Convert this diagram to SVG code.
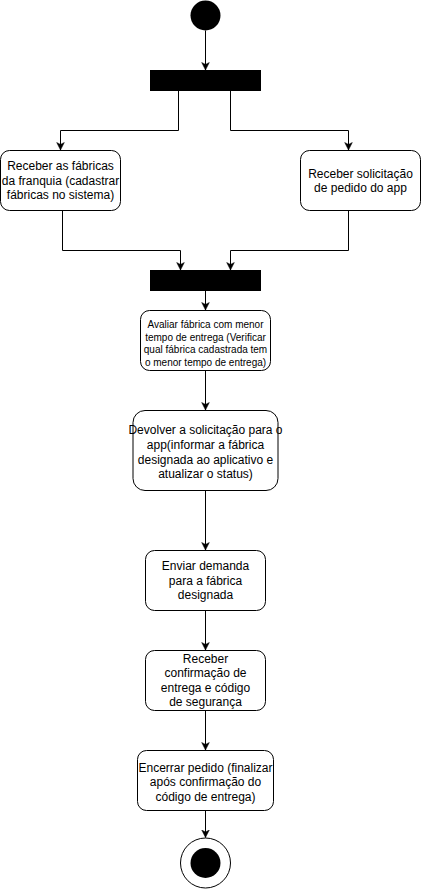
<svg xmlns="http://www.w3.org/2000/svg" width="421" height="891" viewBox="0 0 421 891">
<style>
.box{fill:#fff;stroke:#000;stroke-width:1}
.bar{fill:#000}
.t{font-family:"Liberation Sans",Arial,sans-serif;font-size:12px;fill:#000;text-anchor:middle}
.s{font-size:10px}
.c{fill:none;stroke:#000;stroke-width:1}
</style>
<defs>
<marker id="a" markerUnits="userSpaceOnUse" markerWidth="10" markerHeight="10" viewBox="-8 -5 10 10" refX="0" refY="0" orient="auto">
<path d="M0,0 L-7.5,-3.8 L-5.6,0 L-7.5,3.8 Z" fill="#000" stroke="#000" stroke-width="0.5"/>
</marker>
</defs>
<g id="connectors">
<path class="c" d="M205.5,30.5 V70" marker-end="url(#a)"/>
<path class="c" d="M178.5,91 V130.5 H60.5 V150" marker-end="url(#a)"/>
<path class="c" d="M230.5,91 V130.5 H348.5 V150" marker-end="url(#a)"/>
<path class="c" d="M62.5,210 V250.5 H180.5 V270" marker-end="url(#a)"/>
<path class="c" d="M348.5,210 V250.5 H230.5 V270" marker-end="url(#a)"/>
<path class="c" d="M205.5,291 V310" marker-end="url(#a)"/>
<path class="c" d="M205.5,370 V410" marker-end="url(#a)"/>
<path class="c" d="M205.5,490 V550" marker-end="url(#a)"/>
<path class="c" d="M205.5,610 V650" marker-end="url(#a)"/>
<path class="c" d="M205.5,710 V750" marker-end="url(#a)"/>
<path class="c" d="M205.5,810 V837.5" marker-end="url(#a)"/>
</g>
<g id="start"><circle cx="205.5" cy="15.5" r="15" fill="#000"/></g>
<g id="fork"><rect class="bar" x="150" y="70" width="111" height="21"/></g>
<g id="n1">
<rect class="box" x="0.5" y="150.5" width="120" height="60" rx="9"/>
<text class="t"><tspan x="60.5" y="170">Receber as fábricas</tspan><tspan x="60.5" y="184.5">da franquia (cadastrar</tspan><tspan x="60.5" y="199">fábricas no sistema)</tspan></text>
</g>
<g id="n2">
<rect class="box" x="300.5" y="150.5" width="120" height="60" rx="9"/>
<text class="t"><tspan x="360.5" y="177.5">Receber solicitação</tspan><tspan x="360.5" y="192">de pedido do app</tspan></text>
</g>
<g id="join"><rect class="bar" x="150" y="270" width="111" height="21"/></g>
<g id="n3">
<rect class="box" x="140.5" y="310.5" width="130" height="60" rx="9"/>
<text class="t s"><tspan x="205.5" y="328">Avaliar fábrica com menor</tspan><tspan x="205.5" y="340.7">tempo de entrega (Verificar</tspan><tspan x="205.5" y="353.4">qual fábrica cadastrada tem</tspan><tspan x="205.5" y="366">o menor tempo de entrega)</tspan></text>
</g>
<g id="n4">
<rect class="box" x="133" y="410.5" width="145" height="80" rx="12"/>
<text class="t"><tspan x="205.5" y="434">Devolver a solicitação para o</tspan><tspan x="205.5" y="449">app(informar a fábrica</tspan><tspan x="205.5" y="463.5">designada ao aplicativo e</tspan><tspan x="205.5" y="478">atualizar o status)</tspan></text>
</g>
<g id="n5">
<rect class="box" x="145.5" y="550.5" width="120" height="60" rx="9"/>
<text class="t"><tspan x="205.5" y="570">Enviar demanda</tspan><tspan x="205.5" y="584.5">para a fábrica</tspan><tspan x="205.5" y="599">designada</tspan></text>
</g>
<g id="n6">
<rect class="box" x="145.5" y="650.5" width="120" height="60" rx="9"/>
<text class="t"><tspan x="205.5" y="662.5">Receber</tspan><tspan x="205.5" y="677">confirmação de</tspan><tspan x="205.5" y="691.5">entrega e código</tspan><tspan x="205.5" y="706">de segurança</tspan></text>
</g>
<g id="n7">
<rect class="box" x="137.5" y="750.5" width="136" height="60" rx="9"/>
<text class="t"><tspan x="205.5" y="771.5">Encerrar pedido (finalizar</tspan><tspan x="205.5" y="786">após confirmação do</tspan><tspan x="205.5" y="800.5">código de entrega)</tspan></text>
</g>
<g id="end">
<circle cx="205.5" cy="863" r="25" fill="#fff" stroke="#000" stroke-width="1"/>
<circle cx="205.5" cy="863" r="15" fill="#000"/>
</g>
</svg>
